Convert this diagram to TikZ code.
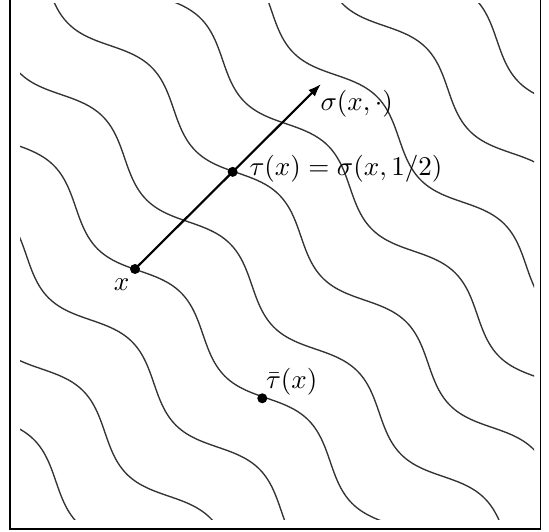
\documentclass[tikz,border=0pt]{standalone}
\usetikzlibrary{arrows.meta,calc}
\begin{document}
\begin{tikzpicture}[x=0.37pt,y=-0.37pt,
  wave/.style={line width=0.5pt,black!80},
  flow/.style={line width=0.8pt,-{Latex[length=4.8pt,width=3.4pt]}},
  dot/.style={fill=black},
  lab/.style={inner sep=0pt}]
\useasboundingbox (0,0) rectangle (549,532);
\draw[line width=0.5pt] (10,-8) rectangle (540.5,529);
\begin{scope}
  \clip (20,4) rectangle (534,520);
  \foreach \n in {-3,...,6}{
    \pgfmathsetmacro\cen{-93+69.3*\n}
    \draw[wave] plot[domain=0:760,samples=320,smooth,variable=\t]
      ({(\t+(\cen+14*sin(2*(\t-290))))/sqrt(2)},{(\t-(\cen+14*sin(2*(\t-290))))/sqrt(2)});
  }
\end{scope}
\coordinate (x) at (135,269);
\coordinate (tip) at (321,84);
\coordinate (tau) at ($(x)!0.525!(tip)$);
\coordinate (taubar) at (262.3,398.3);
\draw[flow] (x) -- (tip);
\fill[dot] (x) circle[radius=1.85pt];
\fill[dot] (tau) circle[radius=1.85pt];
\fill[dot] (taubar) circle[radius=1.85pt];
\node[lab] (lx) at (121.5,285) {$x$};
\node[lab,anchor=west] (lsig) at (320,103.5) {$\sigma(x,\cdot)$};
\node[lab,anchor=west] (ltau) at (249,168.7) {$\tau(x)=\sigma(x,1/2)$};
\node[lab,anchor=west] (ltaubar) at (265.5,382) {$\bar\tau(x)$};
\end{tikzpicture}
\end{document}
